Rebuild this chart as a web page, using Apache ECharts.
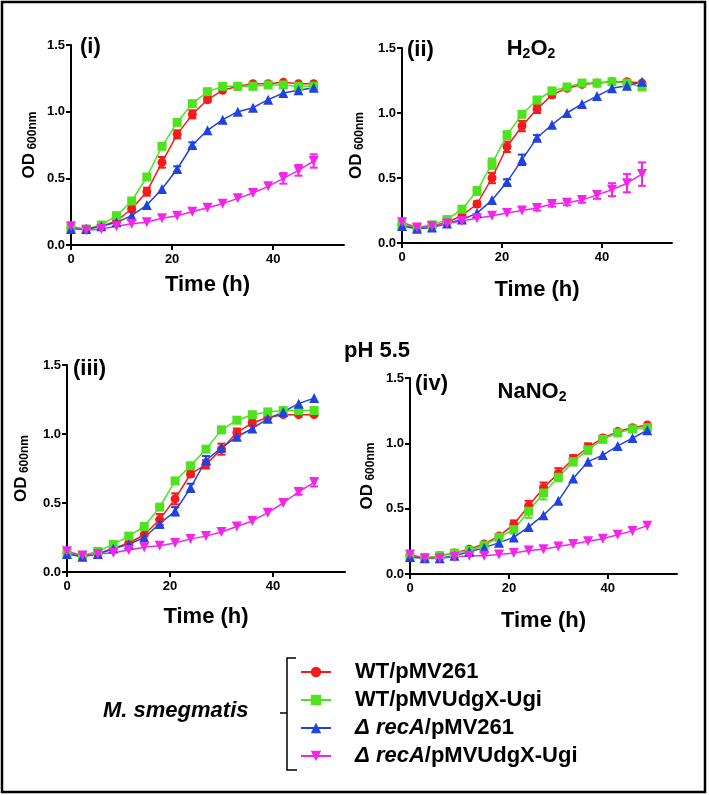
<html>
    <head>
        <meta charset="utf-8">
        <script src='https://cdn.jsdelivr.net/npm/echarts@6/dist/echarts.min.js'></script>
    </head>
    <body>
        <style>
            html, body, #main {
                width: 100%;
                height: 100%;
                margin: 0;
                background: #fff;
            }
        </style>
        <div id='main'></div>
        <script>
            // time points (h)
            var TIME = [0, 3, 6, 9, 12, 15, 18, 21, 24, 27, 30, 33, 36, 39, 42, 45, 48];
            var STRAINS = ['WT/pMV261', 'WT/pMVUdgX-Ugi', 'Δ recA/pMV261', 'Δ recA/pMVUdgX-Ugi'];
            var X_TICKS = [0, 20, 40];
            var Y_TICKS = [0, 0.5, 1.0, 1.5];

            // (i) untreated
            var I_WT_261   = [0.13, 0.12, 0.14, 0.18, 0.27, 0.40, 0.62, 0.83, 0.98, 1.09, 1.16, 1.19, 1.21, 1.21, 1.22, 1.21, 1.21];
            var I_WT_UDG   = [0.13, 0.12, 0.15, 0.22, 0.33, 0.51, 0.74, 0.92, 1.06, 1.15, 1.19, 1.19, 1.19, 1.20, 1.20, 1.19, 1.19];
            var I_RECA_261 = [0.12, 0.12, 0.14, 0.17, 0.22, 0.30, 0.42, 0.57, 0.75, 0.86, 0.94, 1.00, 1.03, 1.09, 1.14, 1.16, 1.18];
            var I_RECA_UDG = [0.14, 0.11, 0.12, 0.14, 0.16, 0.17, 0.20, 0.22, 0.25, 0.28, 0.31, 0.35, 0.39, 0.44, 0.50, 0.56, 0.63];
            var I_WT_261_SD   = [0.01, 0.01, 0.01, 0.01, 0.02, 0.03, 0.04, 0.03, 0.03, 0.02, 0.01, 0.01, 0.01, 0.01, 0.01, 0.01, 0.01];
            var I_WT_UDG_SD   = [0.01, 0.01, 0.01, 0.01, 0.01, 0.01, 0.01, 0.01, 0.01, 0.01, 0.01, 0.01, 0.01, 0.01, 0.01, 0.01, 0.01];
            var I_RECA_261_SD = [0.01, 0.01, 0.01, 0.01, 0.01, 0.01, 0.01, 0.02, 0.02, 0.01, 0.01, 0.01, 0.01, 0.01, 0.01, 0.01, 0.01];
            var I_RECA_UDG_SD = [0.01, 0.01, 0.01, 0.01, 0.01, 0.01, 0.01, 0.01, 0.01, 0.01, 0.01, 0.01, 0.01, 0.01, 0.04, 0.04, 0.05];

            // (ii) H2O2
            var II_WT_261   = [0.14, 0.12, 0.13, 0.16, 0.21, 0.30, 0.50, 0.74, 0.90, 1.03, 1.14, 1.19, 1.22, 1.23, 1.24, 1.24, 1.23];
            var II_WT_UDG   = [0.14, 0.12, 0.14, 0.18, 0.26, 0.40, 0.61, 0.83, 0.99, 1.10, 1.17, 1.20, 1.23, 1.23, 1.24, 1.23, 1.20];
            var II_RECA_261 = [0.13, 0.11, 0.12, 0.15, 0.18, 0.23, 0.33, 0.47, 0.64, 0.81, 0.91, 1.00, 1.07, 1.13, 1.19, 1.21, 1.24];
            var II_RECA_UDG = [0.16, 0.12, 0.13, 0.15, 0.17, 0.19, 0.21, 0.23, 0.25, 0.27, 0.30, 0.31, 0.33, 0.37, 0.41, 0.46, 0.53];
            var II_WT_261_SD   = [0.01, 0.01, 0.01, 0.01, 0.01, 0.02, 0.04, 0.04, 0.04, 0.03, 0.02, 0.01, 0.01, 0.01, 0.01, 0.01, 0.01];
            var II_WT_UDG_SD   = [0.01, 0.01, 0.01, 0.01, 0.01, 0.03, 0.04, 0.03, 0.01, 0.01, 0.01, 0.01, 0.01, 0.01, 0.01, 0.01, 0.01];
            var II_RECA_261_SD = [0.01, 0.01, 0.01, 0.01, 0.01, 0.01, 0.01, 0.02, 0.04, 0.02, 0.01, 0.01, 0.01, 0.01, 0.01, 0.01, 0.01];
            var II_RECA_UDG_SD = [0.01, 0.01, 0.01, 0.01, 0.01, 0.01, 0.01, 0.01, 0.01, 0.02, 0.02, 0.02, 0.02, 0.03, 0.05, 0.07, 0.09];

            // (iii) pH 5.5
            var III_WT_261   = [0.14, 0.12, 0.13, 0.17, 0.21, 0.27, 0.38, 0.53, 0.71, 0.78, 0.89, 1.01, 1.08, 1.12, 1.14, 1.14, 1.14];
            var III_WT_UDG   = [0.14, 0.12, 0.15, 0.20, 0.26, 0.33, 0.47, 0.66, 0.77, 0.89, 1.03, 1.10, 1.14, 1.16, 1.17, 1.17, 1.17];
            var III_RECA_261 = [0.13, 0.11, 0.13, 0.17, 0.20, 0.25, 0.35, 0.44, 0.61, 0.81, 0.90, 0.98, 1.04, 1.11, 1.16, 1.22, 1.26];
            var III_RECA_UDG = [0.15, 0.12, 0.13, 0.14, 0.16, 0.18, 0.19, 0.21, 0.24, 0.26, 0.29, 0.33, 0.37, 0.43, 0.50, 0.58, 0.65];
            var III_WT_261_SD   = [0.01, 0.01, 0.01, 0.01, 0.01, 0.01, 0.04, 0.04, 0.02, 0.03, 0.04, 0.03, 0.02, 0.01, 0.01, 0.01, 0.01];
            var III_WT_UDG_SD   = [0.01, 0.01, 0.01, 0.01, 0.01, 0.01, 0.01, 0.01, 0.01, 0.01, 0.01, 0.01, 0.01, 0.01, 0.01, 0.01, 0.01];
            var III_RECA_261_SD = [0.01, 0.01, 0.01, 0.01, 0.01, 0.01, 0.03, 0.03, 0.03, 0.03, 0.01, 0.01, 0.01, 0.01, 0.01, 0.01, 0.01];
            var III_RECA_UDG_SD = [0.01, 0.01, 0.01, 0.01, 0.01, 0.01, 0.01, 0.01, 0.01, 0.01, 0.01, 0.01, 0.01, 0.01, 0.01, 0.02, 0.03];

            // (iv) NaNO2
            var IV_WT_261   = [0.14, 0.12, 0.14, 0.16, 0.19, 0.23, 0.29, 0.38, 0.52, 0.66, 0.77, 0.88, 0.97, 1.04, 1.09, 1.12, 1.14];
            var IV_WT_UDG   = [0.13, 0.12, 0.14, 0.16, 0.18, 0.22, 0.28, 0.34, 0.48, 0.62, 0.74, 0.86, 0.95, 1.03, 1.08, 1.11, 1.12];
            var IV_RECA_261 = [0.13, 0.12, 0.12, 0.14, 0.17, 0.20, 0.24, 0.28, 0.36, 0.45, 0.56, 0.73, 0.86, 0.91, 0.98, 1.04, 1.10];
            var IV_RECA_UDG = [0.15, 0.12, 0.12, 0.13, 0.14, 0.14, 0.15, 0.16, 0.18, 0.19, 0.21, 0.23, 0.25, 0.27, 0.30, 0.33, 0.37];
            var IV_WT_261_SD   = [0.01, 0.01, 0.01, 0.01, 0.01, 0.01, 0.01, 0.03, 0.04, 0.04, 0.04, 0.03, 0.03, 0.02, 0.01, 0.01, 0.01];
            var IV_WT_UDG_SD   = [0.01, 0.01, 0.01, 0.01, 0.01, 0.01, 0.01, 0.03, 0.05, 0.05, 0.03, 0.03, 0.03, 0.01, 0.01, 0.01, 0.01];
            var IV_RECA_261_SD = [0.01, 0.01, 0.01, 0.01, 0.01, 0.01, 0.01, 0.01, 0.01, 0.01, 0.01, 0.01, 0.01, 0.01, 0.01, 0.01, 0.01];
            var IV_RECA_UDG_SD = [0.01, 0.01, 0.01, 0.01, 0.01, 0.01, 0.01, 0.01, 0.01, 0.01, 0.01, 0.01, 0.01, 0.01, 0.01, 0.01, 0.01];

            var PANELS = [
                [I_WT_261, I_WT_UDG, I_RECA_261, I_RECA_UDG],
                [II_WT_261, II_WT_UDG, II_RECA_261, II_RECA_UDG],
                [III_WT_261, III_WT_UDG, III_RECA_261, III_RECA_UDG],
                [IV_WT_261, IV_WT_UDG, IV_RECA_261, IV_RECA_UDG]
            ];
            var PANEL_SD = [
                [I_WT_261_SD, I_WT_UDG_SD, I_RECA_261_SD, I_RECA_UDG_SD],
                [II_WT_261_SD, II_WT_UDG_SD, II_RECA_261_SD, II_RECA_UDG_SD],
                [III_WT_261_SD, III_WT_UDG_SD, III_RECA_261_SD, III_RECA_UDG_SD],
                [IV_WT_261_SD, IV_WT_UDG_SD, IV_RECA_261_SD, IV_RECA_UDG_SD]
            ];

            var FONT = '"Liberation Sans", Arial, sans-serif';
            var COLORS = ['#f61a1a', '#4fe21f', '#2142e2', '#f424ea'];
            var SYMBOLS = ['circle', 'rect', 'triangle', 'path://M0,0 L10,0 L5,9 Z'];
            var SIZES = [9, 9, 10, 10];

            // grid boxes for the 4 panels
            var grids = [
                { left: 71, top: 45, width: 273, height: 200 },
                { left: 402, top: 48, width: 270, height: 195 },
                { left: 67, top: 365, width: 278, height: 207 },
                { left: 410, top: 378, width: 267, height: 196 }
            ];
            var xNameGap = [29, 36, 34, 36];
            var yNameGap = [32, 36, 36, 33];

            var chart = echarts.init(document.getElementById('main'));

            function errRender(color) {
                return function (params, api) {
                    var x = api.value(0), y = api.value(1), e = api.value(2);
                    if (!e || e < 0.015) return null;
                    var top = api.coord([x, y + e]);
                    var bot = api.coord([x, y - e]);
                    var w = 4;
                    var st = { stroke: color, lineWidth: 2 };
                    return {
                        type: 'group',
                        children: [
                            { type: 'line', shape: { x1: top[0], y1: top[1], x2: bot[0], y2: bot[1] }, style: st },
                            { type: 'line', shape: { x1: top[0] - w, y1: top[1], x2: top[0] + w, y2: top[1] }, style: st },
                            { type: 'line', shape: { x1: bot[0] - w, y1: bot[1], x2: bot[0] + w, y2: bot[1] }, style: st }
                        ]
                    };
                };
            }

            var series = [];
            PANELS.forEach(function (panel, p) {
                panel.forEach(function (vals, s) {
                    series.push({
                        type: 'custom',
                        xAxisIndex: p,
                        yAxisIndex: p,
                        z: 2,
                        silent: true,
                        renderItem: errRender(COLORS[s]),
                        encode: { x: 0, y: 1 },
                        data: TIME.map(function (t, i) { return [t, vals[i], PANEL_SD[p][s][i]]; })
                    });
                    series.push({
                        type: 'line',
                        name: STRAINS[s],
                        xAxisIndex: p,
                        yAxisIndex: p,
                        z: 3,
                        symbol: SYMBOLS[s],
                        symbolSize: SIZES[s],
                        showAllSymbol: true,
                        color: COLORS[s],
                        itemStyle: { color: COLORS[s] },
                        lineStyle: { color: COLORS[s], width: 1.5 },
                        animation: false,
                        data: TIME.map(function (t, i) { return [t, vals[i]]; })
                    });
                });
            });

            var axisLabelStyle = { color: '#000', fontWeight: 'bold', fontSize: 13, fontFamily: FONT };
            var subRich = {
                m: { fontSize: 22, fontWeight: 'bold', fontFamily: FONT, color: '#000', lineHeight: 24 },
                s: { fontSize: 14, fontWeight: 'bold', fontFamily: FONT, color: '#000', lineHeight: 12, verticalAlign: 'bottom' }
            };

            var option = {
                animation: false,
                backgroundColor: '#fff',
                grid: grids.map(function (g) {
                    return Object.assign({ containLabel: false, outerBoundsMode: 'none' }, g);
                }),
                xAxis: grids.map(function (g, i) {
                    return {
                        type: 'value',
                        gridIndex: i,
                        min: 0,
                        max: 54,
                        interval: 20,
                        name: 'Time (h)',
                        nameLocation: 'middle',
                        nameGap: xNameGap[i],
                        nameTextStyle: { color: '#000', fontWeight: 'bold', fontSize: 22, fontFamily: FONT },
                        axisLine: { show: true, lineStyle: { color: '#000', width: 2 } },
                        axisTick: { show: true, length: 5, customValues: X_TICKS, lineStyle: { color: '#000', width: 2 } },
                        axisLabel: Object.assign({ margin: 8, customValues: X_TICKS }, axisLabelStyle),
                        splitLine: { show: false }
                    };
                }),
                yAxis: grids.map(function (g, i) {
                    return {
                        type: 'value',
                        gridIndex: i,
                        min: Y_TICKS[0],
                        max: Y_TICKS[Y_TICKS.length - 1],
                        interval: 0.5,
                        name: '{a|OD} {b|600nm}',
                        nameLocation: 'middle',
                        nameRotate: 90,
                        nameGap: yNameGap[i],
                        nameTextStyle: {
                            color: '#000',
                            fontFamily: FONT,
                            rich: {
                                a: { fontSize: 17, fontWeight: 'bold', fontFamily: FONT, color: '#000', lineHeight: 20 },
                                b: { fontSize: 12, fontWeight: 'bold', fontFamily: FONT, color: '#000', lineHeight: 12, verticalAlign: 'bottom' }
                            }
                        },
                        axisLine: { show: true, lineStyle: { color: '#000', width: 2 } },
                        axisTick: { show: true, length: 5, lineStyle: { color: '#000', width: 2 } },
                        axisLabel: Object.assign({ margin: 6, formatter: function (v) { return v.toFixed(1); } }, axisLabelStyle),
                        splitLine: { show: false }
                    };
                }),
                legend: {
                    data: STRAINS,
                    orient: 'vertical',
                    left: 300,
                    top: 658,
                    height: 140,
                    padding: 0,
                    itemWidth: 30,
                    itemHeight: 13,
                    itemGap: 0,
                    selectedMode: false,
                    formatter: function (name) {
                        if (name.indexOf('Δ recA') === 0) {
                            return '{i|Δ recA}{n|' + name.slice(6) + '}';
                        }
                        return '{n|' + name + '}';
                    },
                    textStyle: {
                        color: '#000',
                        fontSize: 22,
                        fontWeight: 'bold',
                        fontFamily: FONT,
                        lineHeight: 28,
                        padding: [0, 0, 0, 19],
                        rich: {
                            n: { fontSize: 22, fontWeight: 'bold', fontFamily: FONT, color: '#000', lineHeight: 28 },
                            i: { fontSize: 22, fontWeight: 'bold', fontStyle: 'italic', fontFamily: FONT, color: '#000', lineHeight: 28 }
                        }
                    }
                },
                graphic: [
                    // outer frame
                    { type: 'rect', shape: { x: 2, y: 2, width: 703, height: 790 }, style: { fill: 'none', stroke: '#000', lineWidth: 2.5 }, z: 10 },
                    // panel labels
                    { type: 'text', x: 80, y: 47, style: { text: '(i)', fill: '#000', font: 'bold 22px ' + FONT, textVerticalAlign: 'middle' } },
                    { type: 'text', x: 407, y: 50, style: { text: '(ii)', fill: '#000', font: 'bold 22px ' + FONT, textVerticalAlign: 'middle' } },
                    { type: 'text', x: 73, y: 369, style: { text: '(iii)', fill: '#000', font: 'bold 22px ' + FONT, textVerticalAlign: 'middle' } },
                    { type: 'text', x: 415, y: 384, style: { text: '(iv)', fill: '#000', font: 'bold 22px ' + FONT, textVerticalAlign: 'middle' } },
                    {
                        type: 'text', x: 531, y: 49,
                        style: { text: '{m|H}{s|2}{m|O}{s|2}', textAlign: 'center', textVerticalAlign: 'middle', rich: subRich }
                    },
                    {
                        type: 'text', x: 532, y: 392,
                        style: { text: '{m|NaNO}{s|2}', textAlign: 'center', textVerticalAlign: 'middle', rich: subRich }
                    },
                    { type: 'text', x: 377, y: 351, style: { text: 'pH 5.5', fill: '#000', font: 'bold 22px ' + FONT, textAlign: 'center', textVerticalAlign: 'middle' } },
                    // legend group label + brace
                    { type: 'text', x: 103, y: 711, style: { text: 'M. smegmatis', fill: '#000', font: 'italic bold 22px ' + FONT, textVerticalAlign: 'middle' } },
                    { type: 'polyline', shape: { points: [[296, 658], [287, 658], [287, 770], [297, 770]] }, style: { stroke: '#000', lineWidth: 1.5, fill: 'none' } },
                    { type: 'line', shape: { x1: 280, y1: 713, x2: 287, y2: 713 }, style: { stroke: '#000', lineWidth: 1.5 } }
                ],
                series: series
            };

            chart.setOption(option);

            window.onresize = chart.resize;
        </script>
    </body>
</html>
